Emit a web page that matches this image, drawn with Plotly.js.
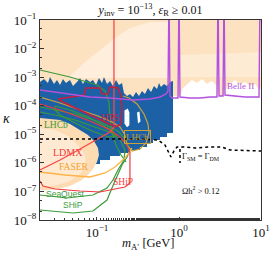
<!DOCTYPE html>
<html><head><meta charset="utf-8">
<script src="https://cdn.plot.ly/plotly-3.0.1.min.js"></script>
<style>html,body{margin:0;padding:0;background:#fff}#chart{width:271px;height:255px}</style>
</head><body><div id="chart"></div>
<script>
// All values below are log10(m_A' / GeV) and log10(kappa).
const peachTopLogM = [-1.75, 1.05, 1.05, 0.963, 0.927, 0.866, 0.805, 0.744, 0.683, 0.622, 0.561, 0.549, 0.476, 0.463, 0.402, 0.341, 0.280, 0.220, 0.159, 0.098, 0.049, 0.012, -0.085, -0.098, -1.75];
const peachTopLogK = [-0.9, -0.9, -3.52, -3.38, -3.24, -3.31, -3.17, -3.275, -3.10, -3.24, -3.45, -3.66, -3.66, -3.31, -3.135, -3.24, -3.065, -3.205, -3.10, -3.275, -3.38, -3.66, -3.66, -3.87, -3.87];

const bandALogM = [-1.329, -1.146, -0.963, -0.780, -0.598, -0.354, -0.134, -0.134, -1.329];
const bandALogK = [-2.96, -2.47, -2.05, -1.63, -1.28, -1.07, -1.07, -3.03, -3.03];
const bandBLogM = [0.012, 1.05, 1.05, 0.012];
const bandBLogK = [-2.225, -2.12, -2.995, -2.995];

const blueLogM = [-1.75, -1.695, -1.646, -1.598, -1.573, -1.524, -1.488, -1.451, -1.415, -1.378, -1.329, -1.293, -1.244, -1.207, -1.171, -1.134, -1.085, -1.049, -1.012, -0.976, -0.939, -0.915, -0.878, -0.841, -0.805, -0.768, -0.732, -0.695, -0.671, -0.634, -0.598, -0.561, -0.524, -0.488, -0.451, -0.415, -0.378, -0.341, -0.305, -0.268, -0.244, -0.220, -0.183, -0.146, -0.110, -0.073,
  -0.073, -0.146, -0.146, -0.232, -0.232, -0.317, -0.317, -0.390, -0.390, -0.476, -0.476, -0.598, -0.598, -0.720, -0.720, -0.841, -0.841, -0.963, -0.963, -1.061, -1.061, -1.134, -1.329, -1.75];
const blueLogK = [-3.17, -3.17, -3.065, -3.205, -2.995, -3.24, -3.10, -3.275, -3.065, -3.205, -3.10, -3.31, -3.17, -3.03, -3.24, -3.065, -3.17, -3.10, -3.275, -3.03, -3.205, -2.995, -3.24, -3.135, -3.31, -3.10, -3.275, -3.205, -3.555, -3.66, -3.59, -3.695, -3.52, -3.66, -3.485, -3.59, -3.38, -3.52, -3.31, -3.415, -3.205, -3.345, -3.24, -3.31, -3.17, -3.135,
  -4.955, -4.955, -5.095, -5.095, -5.20, -5.20, -5.305, -5.305, -5.445, -5.445, -5.55, -5.55, -5.655, -5.655, -5.76, -5.76, -5.90, -5.90, -6.04, -6.04, -6.18, -6.18, -5.55, -4.78];

const hole1LogM = [-0.665, -0.625, -0.605, -0.605, -0.634, -0.665];
const hole1LogK = [-4.17, -4.10, -4.24, -4.68, -4.75, -4.62];
const hole2LogM = [-0.512, -0.482, -0.470, -0.500];
const hole2LogK = [-4.24, -4.20, -4.55, -4.62];

const bulbLogM = [-1.75, -1.695, -1.573, -1.451, -1.329, -1.207, -1.110, -1.037, -0.988, -0.976, -1.000, -1.049, -1.122, -1.207, -1.329, -1.476, -1.598, -1.75];
const bulbLogK = [-4.43, -4.43, -4.465, -4.50, -4.64, -4.85, -5.025, -5.235, -5.48, -5.725, -5.97, -6.215, -6.46, -6.635, -6.81, -6.915, -6.95, -6.95];
const bulbInnerLogM = [-1.75, -1.695, -1.512, -1.354, -1.232, -1.146, -1.134, -1.207, -1.329, -1.488, -1.695, -1.75];
const bulbInnerLogK = [-4.78, -4.78, -4.85, -5.06, -5.375, -5.725, -6.075, -6.39, -6.635, -6.775, -6.845, -6.845];

const belleLogM = [-1.695, -1.366, -1.085, -0.841, -0.561, -0.354, -0.232, -0.159, -0.134, -0.122, -0.110, -0.085, -0.012, 0.0, 0.012, 0.134, 0.256, 0.378, 0.463, 0.476, 0.488, 0.537, 0.549, 0.561, 0.683, 0.805, 0.927, 0.976, 0.988];
const belleLogK = [-3.45, -3.59, -3.695, -3.73, -3.80, -3.765, -3.695, -3.59, -3.485, 0, -3.66, -3.73, -3.73, 0, -3.695, -3.73, -3.73, -3.695, -3.695, 0, -3.66, -3.66, 0, -3.625, -3.66, -3.695, -3.695, -3.695, 0];

const ldmxLogM = [-1.695, -1.451, -1.207, -0.963, -0.841, -0.793, -0.793, -0.793];
const ldmxLogK = [-6.25, -5.90, -5.515, -5.13, -4.92, -4.745, -4.15, 0];

const hpsLogM = [-1.476, -1.329, -1.159, -1.134, -0.963, -0.939, -0.866, -0.841, -0.744, -0.707, -0.695, -0.707, -0.768, -0.902, -1.085, -1.268, -1.415, -1.476];
const hpsLogK = [-3.765, -3.695, -3.625, -3.38, -3.38, -3.59, -3.59, -3.345, -3.38, -3.66, -4.15, -4.64, -4.745, -4.57, -4.325, -4.08, -3.87, -3.765];

const shipRedLogM = [-1.695, -1.451, -1.085, -0.866, -0.720, -0.634, -0.598, -0.598, -0.659, -0.780, -0.963, -1.207, -1.512, -1.659, -1.695];
const shipRedLogK = [-3.94, -4.15, -4.535, -4.815, -5.095, -5.375, -5.62, -6.705, -6.845, -6.915, -7.02, -6.985, -6.915, -6.81, -6.635];

const lhcbLogM = [-1.695, -1.451, -1.207, -0.988, -0.817, -0.720, -0.659, -0.634, -0.573, -0.476, -0.402, -0.366, -0.378, -0.427, -0.512, -0.610, -0.683];
const lhcbLogK = [-3.695, -3.905, -4.15, -4.36, -4.57, -4.745, -5.025, -5.375, -5.585, -5.515, -5.305, -4.955, -4.64, -4.29, -3.94, -3.73, -3.66];

const faserLogM = [-1.695, -1.390, -1.085, -0.902, -0.780, -0.659, -0.573];
const faserLogK = [-6.32, -6.425, -6.495, -6.355, -6.145, -5.83, -5.48];

const greenTopLogM = [-1.695, -1.329, -1.0, -0.902, -0.854, -0.841, -0.817, -0.768, -0.707, -0.646];
const greenTopLogK = [-2.75, -2.995, -3.275, -3.485, -3.87, -4.43, -4.955, -5.375, -5.725, -5.97];
const shipGreenLogM = [-1.695, -1.293, -1.049, -0.878, -0.817, -0.768, -0.695, -0.634, -0.598, -0.646, -0.744, -0.963, -1.268, -1.512, -1.695];
const shipGreenLogK = [-7.65, -7.755, -7.685, -7.30, -6.88, -6.53, -6.075, -5.795, -5.55, -5.20, -4.885, -4.57, -4.29, -4.15, -4.045];
const seaquestLogM = [-1.695, -1.366, -1.049, -0.878, -0.805, -0.744, -0.671, -0.659, -0.720, -0.817, -0.988, -1.268, -1.512, -1.695];
const seaquestLogK = [-7.125, -7.23, -7.125, -6.88, -6.60, -6.25, -5.90, -5.55, -5.20, -4.955, -4.78, -4.50, -4.325, -4.22];
const lhcbGreenLogM = [-1.512, -1.329, -1.110, -0.927, -0.805, -0.768, -0.866, -1.061, -1.268, -1.451, -1.512, -1.512];
const lhcbGreenLogK = [-4.01, -4.15, -4.395, -4.675, -4.885, -5.06, -5.095, -4.885, -4.605, -4.325, -4.15, -4.01];

const gammaLogM = [-1.695, -0.963, -0.476, -0.256, -0.171, -0.098, -0.061, -0.024, 0.073, 0.195, 0.378, 0.524, 0.622, 1.0];
const gammaLogK = [-5.165, -5.165, -5.165, -5.20, -5.375, -5.795, -5.585, -5.445, -5.445, -5.48, -5.445, -5.445, -5.55, -5.585];
const gammaTickLogM = [0.012, 0.012];
const gammaTickLogK = [-5.515, -6.005];

const labelTexts = ['HPS', 'LDMX', 'FASER', 'SHiP', 'SeaQuest', 'SHiP', 'LHCb', 'LHCb', 'Belle II', 'Γ<sub>SM</sub> = Γ<sub>DM</sub>', 'Ωh<sup>2</sup> > 0.12'];
const labelLogM = [-0.841, -1.354, -1.280, -0.683, -1.390, -1.293, -1.50, -0.512, 0.744, 0.27, 0.268];
const labelLogK = [-4.395, -5.62, -6.16, -6.67, -7.09, -7.475, -4.675, -5.095, -3.31, -5.76, -6.95];
const labelColors = ['#c81e3c', '#f03a3a', '#f5a028', '#ff3d3d', '#3a9a3a', '#3a9a3a', '#3a9a3a', '#c49a2c', '#b451df', '#111111', '#111111'];
const labelSizes = [10, 10, 9.5, 9.5, 8.5, 8.5, 9.5, 9, 9, 8.5, 8.5];
const labelFonts = ['serif', 'serif', 'serif', 'serif', 'sans', 'sans', 'serif', 'serif', 'serif', 'serif', 'serif'];

const xTickVals = [0.1, 1, 10];
const xTickText = ['10<sup>−1</sup>', '10<sup>0</sup>', '10<sup>1</sup>'];
const yTickVals = [1e-8, 1e-7, 1e-6, 1e-5, 1e-4, 1e-3, 1e-2, 1e-1];
const yTickText = ['10<sup>−8</sup>', '10<sup>−7</sup>', '10<sup>−6</sup>', '10<sup>−5</sup>', '10<sup>−4</sup>', '10<sup>−3</sup>', '10<sup>−2</sup>', '10<sup>−1</sup>'];

const SERIF = 'Liberation Serif, DejaVu Serif, serif';
const SANS = 'Liberation Sans, DejaVu Sans, sans-serif';
const pow10 = a => a.map(v => Math.pow(10, v));
function area(lm, lk, color) {
  return {x: pow10(lm), y: pow10(lk), mode: 'lines', fill: 'toself', fillcolor: color, line: {width: 0, color: color}, hoverinfo: 'skip'};
}
function curve(lm, lk, color, width, dash) {
  return {x: pow10(lm), y: pow10(lk), mode: 'lines', line: {color: color, width: width, dash: dash || 'solid'}, hoverinfo: 'skip'};
}

const traces = [
  area(peachTopLogM, peachTopLogK, '#fde2c1'),
  area(bandALogM, bandALogK, '#ffeedb'),
  area(bandBLogM, bandBLogK, '#feebd4'),
  area(blueLogM, blueLogK, '#1c61a6'),
  area(hole1LogM, hole1LogK, '#ffffff'),
  area(hole2LogM, hole2LogK, '#ffffff'),
  area(bulbLogM, bulbLogK, '#fddcb3'),
  area(bulbInnerLogM, bulbInnerLogK, '#feead3'),
  curve(greenTopLogM, greenTopLogK, '#3a9a3a', 1.2),
  curve(shipGreenLogM, shipGreenLogK, '#3a9a3a', 1.2),
  curve(seaquestLogM, seaquestLogK, '#3a9a3a', 1.2),
  curve(lhcbGreenLogM, lhcbGreenLogK, '#3a9a3a', 1.2),
  curve(lhcbLogM, lhcbLogK, '#c9a13b', 1.2),
  curve(faserLogM, faserLogK, '#ffb347', 1.3),
  curve(shipRedLogM, shipRedLogK, '#f2383c', 1.2),
  curve(ldmxLogM, ldmxLogK, '#ff4545', 1.3),
  curve(hpsLogM, hpsLogK, '#c81e3c', 1.5),
  curve(belleLogM, belleLogK, '#b451df', 1.4),
  curve(gammaLogM, gammaLogK, '#000000', 1.5, 'dot'),
  curve(gammaTickLogM, gammaTickLogK, '#000000', 1.5, 'dot')
];

const annotations = labelTexts.map((t, i) => {
  const a = {
    text: t, x: labelLogM[i], y: labelLogK[i], xref: 'x', yref: 'y', showarrow: false,
    font: {family: labelFonts[i] === 'sans' ? SANS : SERIF, size: labelSizes[i], color: labelColors[i]}
  };
  if (i === 7) { a.bordercolor = '#c9a13b'; a.borderwidth = 1; a.borderpad = 1; }
  return a;
});
annotations.push({text: '<i>m</i><sub>A′</sub> [GeV]', xref: 'paper', yref: 'paper', x: 0.49, y: -0.122, showarrow: false, yanchor: 'middle', font: {family: SERIF, size: 12.5, color: '#111'}});
annotations.push({text: '<i>κ</i>', xref: 'paper', yref: 'paper', x: -0.15, y: 0.51, showarrow: false, xanchor: 'center', font: {family: SERIF, size: 14, color: '#111'}});

const axisCommon = {
  type: 'log', showgrid: false, zeroline: false, showline: true, mirror: true, linecolor: '#333', linewidth: 1,
  ticks: 'inside', ticklen: 3.5, tickcolor: '#333', tickfont: {family: SERIF, size: 13, color: '#111'},
  minor: {ticks: 'inside', ticklen: 2, tickcolor: '#333', showgrid: false}
};

const layout = {
  width: 271, height: 255, margin: {l: 40, r: 10, t: 20, b: 35},
  paper_bgcolor: '#fff', plot_bgcolor: '#fff', showlegend: false,
  title: {text: '<i>y</i><sub>inv</sub> = 10<sup>−13</sup>, <i>ε</i><sub>R</sub> ≥ 0.01', x: 0.5, xref: 'paper', y: 0.962, yref: 'container', yanchor: 'middle', font: {family: SERIF, size: 12, color: '#111'}},
  xaxis: Object.assign({}, axisCommon, {range: [-1.695, 1], tickvals: xTickVals, ticktext: xTickText}),
  yaxis: Object.assign({}, axisCommon, {range: [-8, -1], tickvals: yTickVals, ticktext: yTickText}),
  annotations: annotations
};

Plotly.newPlot('chart', traces, layout, {staticPlot: true, displayModeBar: false});
</script></body></html>
